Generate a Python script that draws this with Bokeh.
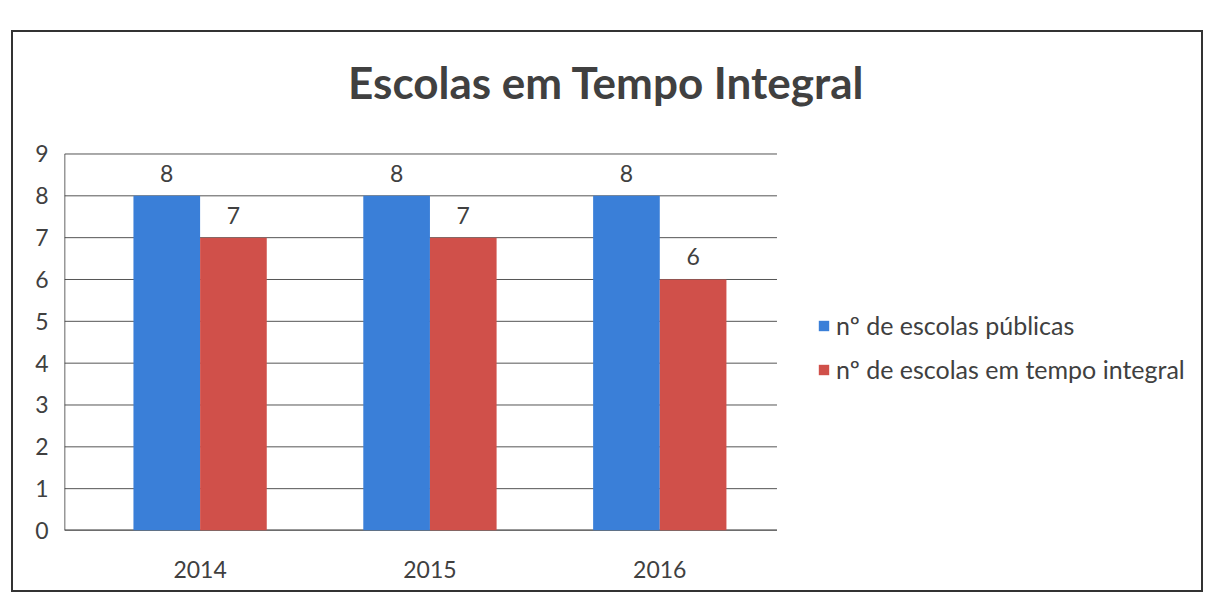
from bokeh.plotting import figure
from bokeh.models import (ColumnDataSource, LabelSet, Label, Legend, LegendItem,
                          FixedTicker, Range1d)
from bokeh.core.properties import value
from bokeh.embed import file_html
from bokeh.resources import INLINE

title_text = "Escolas em Tempo Integral"
years = ["2014", "2015", "2016"]
publicas = [8, 8, 8]
integral = [7, 7, 6]
series_names = ["nº de escolas públicas", "nº de escolas em tempo integral"]
y_ticks = list(range(0, 10))

BLUE = "#3a7fd8"
RED = "#d0504a"
TXT = "#404040"
FONT = "Lato"

# layout (pixels)
fig_w, fig_h = 1192, 562
canvas_w, canvas_h = 1188, 560
left_border, bottom_border = 51, 64
plot_px_w, plot_px_h = 710.0, 375.0
frame_w = canvas_w - left_border
frame_h = canvas_h - bottom_border

idx = list(range(len(years)))
bw = 0.29
x_start, plot_end = -0.59, 2.51
x_end = x_start + (plot_end - x_start) * frame_w / plot_px_w
y_top = y_ticks[-1]
y_end = y_top * frame_h / plot_px_h
px_per_x = plot_px_w / (plot_end - x_start)
px_per_y = plot_px_h / y_top

src_a = ColumnDataSource(dict(x=[i - bw / 2 for i in idx], y=publicas, t=[str(v) for v in publicas]))
src_b = ColumnDataSource(dict(x=[i + bw / 2 for i in idx], y=integral, t=[str(v) for v in integral]))
grid_src = ColumnDataSource(dict(x0=[x_start] * len(y_ticks), x1=[plot_end] * len(y_ticks), y=y_ticks))

p = figure(width=fig_w, height=fig_h, output_backend="svg", toolbar_location=None,
           x_range=Range1d(x_start, x_end), y_range=Range1d(0, y_end),
           min_border_left=left_border, min_border_right=0, min_border_top=0,
           min_border_bottom=bottom_border,
           styles={"border": "2px solid #333333", "margin-top": "30px", "margin-left": "11px"})
p.outline_line_color = None
p.background_fill_color = "white"
p.border_fill_color = "white"

# horizontal gridlines limited to the plotting area
p.segment(x0="x0", x1="x1", y0="y", y1="y", source=grid_src, line_color="#555555", line_width=1)
# value axis line and category axis baseline
p.segment(x0=[x_start], x1=[x_start], y0=[0], y1=[y_top], line_color="#333333", line_width=1.5)
p.segment(x0=[x_start], x1=[plot_end], y0=[0], y1=[0], line_color="#333333", line_width=2)

ra = p.vbar(x="x", top="y", width=bw, source=src_a, fill_color=BLUE, line_color=None)
rb = p.vbar(x="x", top="y", width=bw, source=src_b, fill_color=RED, line_color=None)

for s in (src_a, src_b):
    p.add_layout(LabelSet(x="x", y="y", text="t", source=s, text_align="center",
                          text_baseline="bottom", y_offset=14, text_font=value(FONT),
                          text_font_size="23px", text_color=TXT))

# chart title, centred over the page
p.add_layout(Label(x=x_start + 540 / px_per_x, y=y_top + 72 / px_per_y, text=title_text,
                   text_align="center", text_baseline="alphabetic", text_font=FONT,
                   text_font_size="44px", text_font_style="bold", text_color=TXT))

p.yaxis.ticker = FixedTicker(ticks=y_ticks)
p.xaxis.ticker = FixedTicker(ticks=idx)
p.xaxis.major_label_overrides = {i: y for i, y in enumerate(years)}
for ax in (p.xaxis, p.yaxis):
    ax.major_tick_line_color = None
    ax.minor_tick_line_color = None
    ax.major_label_text_font = FONT
    ax.major_label_text_font_size = "23px"
    ax.major_label_text_color = TXT
    ax.axis_line_color = None
p.xaxis.major_label_standoff = 24
p.yaxis.major_label_standoff = 10
p.xgrid.grid_line_color = None
p.ygrid.grid_line_color = None

legend = Legend(items=[LegendItem(label=series_names[0], renderers=[ra]),
                       LegendItem(label=series_names[1], renderers=[rb])],
                location=(753, 146), orientation="vertical",
                label_text_font=FONT, label_text_font_size="25px", label_text_color=TXT,
                glyph_width=13, glyph_height=13, spacing=14, label_height=27,
                label_standoff=6, border_line_color=None, background_fill_alpha=0)
p.add_layout(legend, "center")

open("out.html", "w").write(file_html(p, INLINE))
